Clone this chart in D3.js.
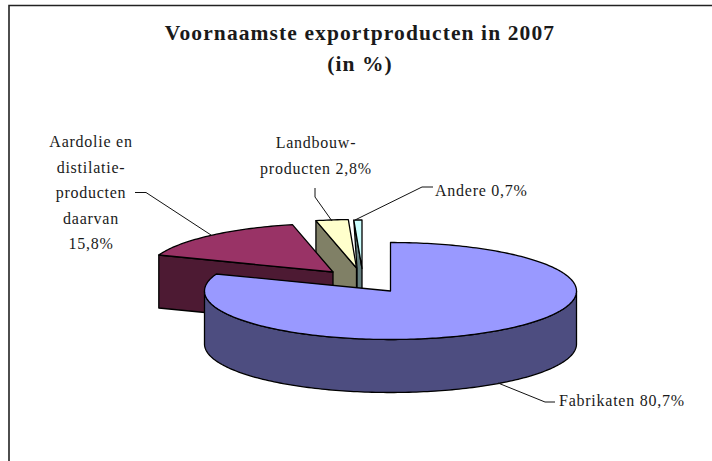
<!DOCTYPE html>
<html>
<head>
<meta charset="utf-8">
<script src="https://cdnjs.cloudflare.com/ajax/libs/d3/7.8.5/d3.min.js"></script>
<style>
html,body{margin:0;padding:0;background:#fff;overflow:hidden}
text{font-family:"Liberation Serif",serif;fill:#1a1a1a}
</style>
</head>
<body>
<svg id="chart"></svg>
<script>
var categories=["Fabrikaten","Aardolie en distilatie-producten daarvan","Landbouw-producten","Andere"];
var values=[80.7,15.8,2.8,0.7];
var faceColors=["#9999ff","#993366","#ffffcc","#ccffff"];
var wallColors=["#4d4d80","#4d1a33","#808066","#668080"];
var titleLines=["Voornaamste exportproducten in 2007","(in %)"];
var labelLines=[["Fabrikaten 80,7%"],["Aardolie en","distilatie-","producten","daarvan","15,8%"],["Landbouw-","producten 2,8%"],["Andere 0,7%"]];

var width=712;
var height=461;
var rx=186;
var ry=48.5;
var depth=53;

// where each slice's tip sits once pulled out of the pie
var tips=[[390.5,291],[333,272],[356.5,268],[362,268.5]];
// text placement per label: x, first baseline, anchor, spacing
var labelPos=[[559,406,"start",0],[91,147,"middle",25.5],[316,148,"middle",25.6],[435,196,"start",0]];
var leaders=[
  [[555,402],[545,402],[498,383]],
  [[135,192.5],[146,192.5],[211,235]],
  [[315,188],[315,197],[332,221]],
  [[433,187],[422,187],[355,220]]
];

var svg=d3.select("#chart")
.attr("width",width)
.attr("height",height)
.style("display","block");

// outer frame, only the top and left edges fall inside the picture
svg.append("path")
.attr("d",d3.line()([[9,461],[9,5.5],[712,5.5]]))
.attr("fill","none")
.attr("stroke","#222")
.attr("stroke-width",1.6);

var pie=d3.pie().sort(null).value(function(d){return d;});
var slices=pie(values);
var line=d3.line();

var project=function(tip,a,drop)
{
  return [tip[0]+rx*Math.sin(a),tip[1]-ry*Math.cos(a)+(drop||0)];
};

var arcPoints=function(tip,a0,a1,drop)
{
  var n=Math.max(2,Math.ceil(Math.abs(a1-a0)/0.02));
  return d3.range(n+1).map(function(i){
    return project(tip,a0+(a1-a0)*i/n,drop);
  });
};

var drawShape=function(points,fill)
{
  svg.append("path")
  .attr("d",line(points)+"Z")
  .attr("fill",fill)
  .attr("stroke","#000")
  .attr("stroke-width",1.3)
  .attr("stroke-linejoin","round");
};

// back to front: small slices first, big one last
var drawSlice=function(i)
{
  var s=slices[i];
  var tip=tips[i];
  var start=project(tip,s.startAngle);
  var bottom=[tip[0],tip[1]+depth];

  if(i==0)
  {
    // round outer wall, only the front half shows
    var front=arcPoints(tip,Math.PI/2,Math.PI*1.5);
    var back=arcPoints(tip,Math.PI*1.5,Math.PI/2,depth);
    drawShape(front.concat(back),wallColors[i]);
  }
  else if(i==3)
  {
    // seen almost edge on, so the cut wall narrows
    drawShape([start,tip,bottom,[tip[0]-5,bottom[1]],[tip[0]-5,tip[1]]],wallColors[i]);
  }
  else
  {
    drawShape([start,tip,bottom,[start[0],start[1]+depth]],wallColors[i]);
  }
  drawShape([tip].concat(arcPoints(tip,s.startAngle,s.endAngle)),faceColors[i]);
};

// Andere goes first so Landbouw overlaps its narrow wall
[3,2,1,0].forEach(drawSlice);

svg.selectAll("path.leader")
.data(leaders)
.enter()
.append("path")
.attr("class","leader")
.attr("d",function(d){return line(d);})
.attr("fill","none")
.attr("stroke","#111")
.attr("stroke-width",1);

svg.selectAll("text.title")
.data(titleLines)
.enter()
.append("text")
.attr("class","title")
.attr("x",360)
.attr("y",function(d,i){return 40+i*31;})
.attr("text-anchor","middle")
.attr("font-size",21.5)
.attr("font-weight","bold")
.attr("letter-spacing",1.1)
.text(function(d){return d;});

labelLines.forEach(function(lines,k)
{
  var p=labelPos[k];
  svg.selectAll("text.label"+k)
  .data(lines)
  .enter()
  .append("text")
  .attr("class","label"+k)
  .attr("x",p[0])
  .attr("y",function(d,i){return p[1]+i*p[3];})
  .attr("text-anchor",p[2])
  .attr("font-size",16)
  .attr("letter-spacing",0.75)
  .text(function(d){return d;});
});
</script>
</body>
</html>
